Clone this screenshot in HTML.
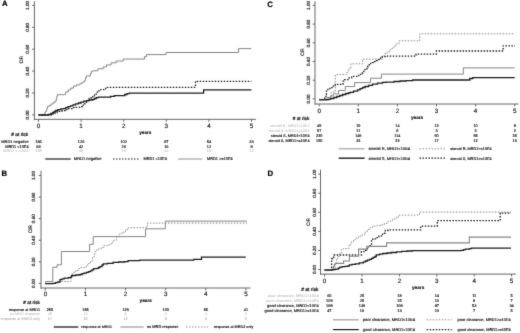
<!DOCTYPE html><html><head><meta charset="utf-8"><title>CIR curves</title><style>html,body{margin:0;padding:0;background:#fff;width:520px;height:333px;overflow:hidden}svg{display:block;filter:grayscale(1)}text{font-family:"Liberation Sans", sans-serif;text-rendering:geometricPrecision}polyline{fill:none;stroke-linejoin:miter}</style></head><body>
<svg width="520" height="333" viewBox="0 0 520 333">
<defs><filter id="bl" x="0" y="0" width="1" height="1" color-interpolation-filters="sRGB"><feConvolveMatrix order="3" kernelMatrix="0.0183 0.1353 0.0183 0.1353 1.0000 0.1353 0.0183 0.1353 0.0183" divisor="1.6146" edgeMode="duplicate"/></filter></defs>
<rect width="520" height="333" fill="#fff"/>
<g filter="url(#bl)">
<rect width="520" height="333" fill="#fff"/>
<line x1="34.4" y1="1.2" x2="34.4" y2="119.85" stroke="#666" stroke-width="1"/>
<line x1="33.9" y1="119.35" x2="256" y2="119.35" stroke="#666" stroke-width="1"/>
<line x1="32.1" y1="114.9" x2="34.4" y2="114.9" stroke="#666" stroke-width="1"/>
<text transform="translate(29.2 114.9) rotate(-90) scale(0.1)" font-size="46" text-anchor="middle" fill="#111" stroke="#111" stroke-width="1.8">0.00</text>
<line x1="32.1" y1="93" x2="34.4" y2="93" stroke="#666" stroke-width="1"/>
<text transform="translate(29.2 93) rotate(-90) scale(0.1)" font-size="46" text-anchor="middle" fill="#111" stroke="#111" stroke-width="1.8">0.20</text>
<line x1="32.1" y1="71.1" x2="34.4" y2="71.1" stroke="#666" stroke-width="1"/>
<text transform="translate(29.2 71.1) rotate(-90) scale(0.1)" font-size="46" text-anchor="middle" fill="#111" stroke="#111" stroke-width="1.8">0.40</text>
<line x1="32.1" y1="49.2" x2="34.4" y2="49.2" stroke="#666" stroke-width="1"/>
<text transform="translate(29.2 49.2) rotate(-90) scale(0.1)" font-size="46" text-anchor="middle" fill="#111" stroke="#111" stroke-width="1.8">0.60</text>
<line x1="32.1" y1="27.3" x2="34.4" y2="27.3" stroke="#666" stroke-width="1"/>
<text transform="translate(29.2 27.3) rotate(-90) scale(0.1)" font-size="46" text-anchor="middle" fill="#111" stroke="#111" stroke-width="1.8">0.80</text>
<line x1="32.1" y1="5.4" x2="34.4" y2="5.4" stroke="#666" stroke-width="1"/>
<text transform="translate(29.2 5.4) rotate(-90) scale(0.1)" font-size="46" text-anchor="middle" fill="#111" stroke="#111" stroke-width="1.8">1.00</text>
<line x1="38.5" y1="119.35" x2="38.5" y2="121.75" stroke="#666" stroke-width="1"/>
<text transform="translate(38.5 127.7) scale(0.1)" font-size="63" text-anchor="middle" fill="#111" stroke="#111" stroke-width="1.5">0</text>
<line x1="81.1" y1="119.35" x2="81.1" y2="121.75" stroke="#666" stroke-width="1"/>
<text transform="translate(81.1 127.7) scale(0.1)" font-size="63" text-anchor="middle" fill="#111" stroke="#111" stroke-width="1.5">1</text>
<line x1="123.7" y1="119.35" x2="123.7" y2="121.75" stroke="#666" stroke-width="1"/>
<text transform="translate(123.7 127.7) scale(0.1)" font-size="63" text-anchor="middle" fill="#111" stroke="#111" stroke-width="1.5">2</text>
<line x1="166.3" y1="119.35" x2="166.3" y2="121.75" stroke="#666" stroke-width="1"/>
<text transform="translate(166.3 127.7) scale(0.1)" font-size="63" text-anchor="middle" fill="#111" stroke="#111" stroke-width="1.5">3</text>
<line x1="208.9" y1="119.35" x2="208.9" y2="121.75" stroke="#666" stroke-width="1"/>
<text transform="translate(208.9 127.7) scale(0.1)" font-size="63" text-anchor="middle" fill="#111" stroke="#111" stroke-width="1.5">4</text>
<line x1="251.5" y1="119.35" x2="251.5" y2="121.75" stroke="#666" stroke-width="1"/>
<text transform="translate(251.5 127.7) scale(0.1)" font-size="63" text-anchor="middle" fill="#111" stroke="#111" stroke-width="1.5">5</text>
<text transform="translate(2 6.4) scale(0.1)" font-size="78" fill="#000" font-weight="bold" stroke="#000" stroke-width="2">A</text>
<text transform="translate(23.29 59.8) rotate(-90) scale(0.1)" font-size="50" text-anchor="middle" fill="#1a1a1a" stroke="#1a1a1a" stroke-width="1.5" textLength="75" lengthAdjust="spacingAndGlyphs">CIR</text>
<text transform="translate(139.2 133.7) scale(0.1)" font-size="47" fill="#111" font-weight="bold" stroke="#111" stroke-width="1.5">years</text>
<text transform="translate(28.2 135.6) scale(0.1)" font-size="48.52" text-anchor="end" fill="#111" stroke="#111" stroke-width="2.2"># at risk</text>
<text transform="translate(28.6 142.7) scale(0.1)" font-size="39.64" text-anchor="end" fill="#111" stroke="#111" stroke-width="1.5">MRD1 negative</text>
<text transform="translate(38.5 142.7) scale(0.1)" font-size="39" text-anchor="middle" fill="#111" stroke="#111" stroke-width="1.5">186</text>
<text transform="translate(81.1 142.7) scale(0.1)" font-size="39" text-anchor="middle" fill="#111" stroke="#111" stroke-width="1.5">126</text>
<text transform="translate(123.7 142.7) scale(0.1)" font-size="39" text-anchor="middle" fill="#111" stroke="#111" stroke-width="1.5">102</text>
<text transform="translate(166.3 142.7) scale(0.1)" font-size="39" text-anchor="middle" fill="#111" stroke="#111" stroke-width="1.5">87</text>
<text transform="translate(208.9 142.7) scale(0.1)" font-size="39" text-anchor="middle" fill="#111" stroke="#111" stroke-width="1.5">54</text>
<text transform="translate(251.5 142.7) scale(0.1)" font-size="39" text-anchor="middle" fill="#111" stroke="#111" stroke-width="1.5">33</text>
<text transform="translate(28.6 147.6) scale(0.1)" font-size="38.82" text-anchor="end" fill="#111" stroke="#111" stroke-width="1.5">MRD1 &lt;10E4</text>
<text transform="translate(38.5 147.6) scale(0.1)" font-size="39" text-anchor="middle" fill="#111" stroke="#111" stroke-width="1.5">69</text>
<text transform="translate(81.1 147.6) scale(0.1)" font-size="39" text-anchor="middle" fill="#111" stroke="#111" stroke-width="1.5">42</text>
<text transform="translate(123.7 147.6) scale(0.1)" font-size="39" text-anchor="middle" fill="#111" stroke="#111" stroke-width="1.5">26</text>
<text transform="translate(166.3 147.6) scale(0.1)" font-size="39" text-anchor="middle" fill="#111" stroke="#111" stroke-width="1.5">16</text>
<text transform="translate(208.9 147.6) scale(0.1)" font-size="39" text-anchor="middle" fill="#111" stroke="#111" stroke-width="1.5">12</text>
<text transform="translate(251.5 147.6) scale(0.1)" font-size="39" text-anchor="middle" fill="#111" stroke="#111" stroke-width="1.5">8</text>
<text transform="translate(28.6 152.4) scale(0.1)" font-size="38.26" text-anchor="end" fill="#b0b0b0">MRD1 &gt;=10E4</text>
<text transform="translate(38.5 152.4) scale(0.1)" font-size="39" text-anchor="middle" fill="#b0b0b0">158</text>
<text transform="translate(81.1 152.4) scale(0.1)" font-size="39" text-anchor="middle" fill="#b0b0b0">45</text>
<text transform="translate(123.7 152.4) scale(0.1)" font-size="39" text-anchor="middle" fill="#b0b0b0">29</text>
<text transform="translate(166.3 152.4) scale(0.1)" font-size="39" text-anchor="middle" fill="#b0b0b0">20</text>
<text transform="translate(208.9 152.4) scale(0.1)" font-size="39" text-anchor="middle" fill="#b0b0b0">15</text>
<text transform="translate(251.5 152.4) scale(0.1)" font-size="39" text-anchor="middle" fill="#b0b0b0">12</text>
<line x1="45.3" y1="159" x2="70.7" y2="159" stroke="#1c1c1c" stroke-width="1.2"/>
<text transform="translate(73.8 160.45) scale(0.1)" font-size="40.37" fill="#111" stroke="#111" stroke-width="1.5">MRD1 negative</text>
<line x1="113" y1="159" x2="139.4" y2="159" stroke="#000" stroke-width="0.9" stroke-dasharray="1.5 1.5"/>
<text transform="translate(143.5 160.38) scale(0.1)" font-size="38.65" fill="#111" stroke="#111" stroke-width="1.5">MRD1 &lt;10E4</text>
<line x1="178" y1="159" x2="202.3" y2="159" stroke="#858585" stroke-width="0.9"/>
<text transform="translate(207 160.39) scale(0.1)" font-size="38.72" fill="#111" stroke="#111" stroke-width="1.5">MRD1 &gt;=10E4</text>
<polyline points="38.5,114.9 43.4,114.9 44.4,114.9 44.4,113 45.4,113 45.4,111.5 46.4,111.5 46.4,109.1 47.4,109.1 47.4,106.6 48.9,106.6 48.9,105.6 50.9,105.6 50.9,104.1 52.8,104.1 52.8,102.9 54.8,102.9 54.8,101.1 56.3,101.1 56.3,98.7 56.8,98.7 56.8,96.2 57.3,96.2 57.3,94.7 64.9,94.7 65.7,94.7 65.7,91.9 68.3,91.9 68.3,89.9 70.7,89.9 70.7,88.1 73.5,88.1 73.5,86.1 76.4,86.1 76.4,84.9 79.8,84.9 79.8,83.9 81.5,83.9 81.5,82.9 83.2,82.9 83.2,81.7 84.6,81.7 84.6,80.5 85.6,80.5 85.6,77.5 86.5,77.5 86.5,75.9 90.4,75.9 90.4,73.7 91.3,73.7 91.3,71.3 93,71.3 93,70.8 97.9,70.8 97.9,68.8 103.3,68.8 103.3,66.9 106.5,66.9 106.5,64.9 111.1,64.9 111.1,62.8 116.2,62.8 116.2,61 123.25,61 123.25,59.05 144.5,59.05 144.5,56.6 146.5,56.6 146.5,54.6 166,54.6 166,52.5 238.6,52.5 238.6,48.6 251.4,48.6" stroke="#858585" stroke-width="1"/>
<polyline points="38.5,115.1 48,115.1 51,115.1 51,114.1 53,114.1 53,113.3 55,113.3 55,112.5 57,112.5 57,111.9 59.3,111.9 59.3,111.4 62,111.4 62,110.6 65,110.6 65,109.7 68,109.7 68,108.7 72,108.7 72,107.7 76,107.7 76,107.3 80.2,107.3 80.2,106.7 82.5,106.7 82.5,105.1 84.6,105.1 84.6,103.8 86.5,103.8 86.5,101.8 88,101.8 88,99.9 89.2,99.9 89.2,98.5 91,98.5 91,97.1 92.8,97.1 92.8,95.8 94.5,95.8 94.5,94.1 96.4,94.1 96.4,92.2 97.5,92.2 97.5,90.8 99.1,90.8 99.1,89.6 105.7,89.6 105.7,87.4 195.5,87.4 195.5,81.3 251.4,81.3" stroke="#1c1c1c" stroke-width="1.3" stroke-dasharray="1.5 1.5"/>
<polyline points="38.5,115 45.9,115 48.4,115 48.4,114.5 50.9,114.5 50.9,113.5 52.8,113.5 52.8,112.5 54.3,112.5 54.3,111.5 55.8,111.5 55.8,110.5 57.8,110.5 57.8,109.6 60.8,109.6 60.8,108.9 63.7,108.9 63.7,108.6 65.7,108.6 65.7,107.6 68,107.6 68,106.6 70.5,106.6 70.5,105.8 73,105.8 73,104.8 75.5,104.8 75.5,103.9 78.4,103.9 78.4,103 81,103 81,102.1 83.8,102.1 83.8,101.2 86.5,101.2 86.5,100.6 89.2,100.6 89.2,100 92.8,100 92.8,99.4 94.5,99.4 94.5,98.5 96.4,98.5 96.4,97.7 98.4,97.7 98.4,97.2 110.6,97.2 110.6,96.4 114.4,96.4 114.4,95.6 124.8,95.6 124.8,94.5 127,94.5 127,93.7 129.5,93.7 129.5,93.1 203.6,93.1 203.6,89.8 251.4,89.8" stroke="#1c1c1c" stroke-width="1.3"/>
<line x1="41" y1="170.8" x2="41" y2="288.5" stroke="#666" stroke-width="1"/>
<line x1="40.5" y1="288" x2="250.4" y2="288" stroke="#666" stroke-width="1"/>
<line x1="38.7" y1="283.4" x2="41" y2="283.4" stroke="#666" stroke-width="1"/>
<text transform="translate(34.8 283.4) rotate(-90) scale(0.1)" font-size="46" text-anchor="middle" fill="#111" stroke="#111" stroke-width="1.8">0.00</text>
<line x1="38.7" y1="261.82" x2="41" y2="261.82" stroke="#666" stroke-width="1"/>
<text transform="translate(34.8 261.82) rotate(-90) scale(0.1)" font-size="46" text-anchor="middle" fill="#111" stroke="#111" stroke-width="1.8">0.20</text>
<line x1="38.7" y1="240.24" x2="41" y2="240.24" stroke="#666" stroke-width="1"/>
<text transform="translate(34.8 240.24) rotate(-90) scale(0.1)" font-size="46" text-anchor="middle" fill="#111" stroke="#111" stroke-width="1.8">0.40</text>
<line x1="38.7" y1="218.66" x2="41" y2="218.66" stroke="#666" stroke-width="1"/>
<text transform="translate(34.8 218.66) rotate(-90) scale(0.1)" font-size="46" text-anchor="middle" fill="#111" stroke="#111" stroke-width="1.8">0.60</text>
<line x1="38.7" y1="197.08" x2="41" y2="197.08" stroke="#666" stroke-width="1"/>
<text transform="translate(34.8 197.08) rotate(-90) scale(0.1)" font-size="46" text-anchor="middle" fill="#111" stroke="#111" stroke-width="1.8">0.80</text>
<line x1="38.7" y1="175.5" x2="41" y2="175.5" stroke="#666" stroke-width="1"/>
<text transform="translate(34.8 175.5) rotate(-90) scale(0.1)" font-size="46" text-anchor="middle" fill="#111" stroke="#111" stroke-width="1.8">1.00</text>
<line x1="45.4" y1="288" x2="45.4" y2="290.4" stroke="#666" stroke-width="1"/>
<text transform="translate(45.4 296.2) scale(0.1)" font-size="63" text-anchor="middle" fill="#111" stroke="#111" stroke-width="1.5">0</text>
<line x1="85.5" y1="288" x2="85.5" y2="290.4" stroke="#666" stroke-width="1"/>
<text transform="translate(85.5 296.2) scale(0.1)" font-size="63" text-anchor="middle" fill="#111" stroke="#111" stroke-width="1.5">1</text>
<line x1="125.6" y1="288" x2="125.6" y2="290.4" stroke="#666" stroke-width="1"/>
<text transform="translate(125.6 296.2) scale(0.1)" font-size="63" text-anchor="middle" fill="#111" stroke="#111" stroke-width="1.5">2</text>
<line x1="165.7" y1="288" x2="165.7" y2="290.4" stroke="#666" stroke-width="1"/>
<text transform="translate(165.7 296.2) scale(0.1)" font-size="63" text-anchor="middle" fill="#111" stroke="#111" stroke-width="1.5">3</text>
<line x1="205.8" y1="288" x2="205.8" y2="290.4" stroke="#666" stroke-width="1"/>
<text transform="translate(205.8 296.2) scale(0.1)" font-size="63" text-anchor="middle" fill="#111" stroke="#111" stroke-width="1.5">4</text>
<line x1="245.9" y1="288" x2="245.9" y2="290.4" stroke="#666" stroke-width="1"/>
<text transform="translate(245.9 296.2) scale(0.1)" font-size="63" text-anchor="middle" fill="#111" stroke="#111" stroke-width="1.5">5</text>
<text transform="translate(1.4 176.4) scale(0.1)" font-size="78" fill="#000" font-weight="bold" stroke="#000" stroke-width="2">B</text>
<text transform="translate(31.79 229.2) rotate(-90) scale(0.1)" font-size="50" text-anchor="middle" fill="#1a1a1a" stroke="#1a1a1a" stroke-width="1.5" textLength="80" lengthAdjust="spacingAndGlyphs">CIR</text>
<text transform="translate(139.6 301.6) scale(0.1)" font-size="47" fill="#111" font-weight="bold" stroke="#111" stroke-width="1.5">years</text>
<text transform="translate(39.9 303.7) scale(0.1)" font-size="47.35" text-anchor="end" fill="#111" stroke="#111" stroke-width="2.2"># at risk</text>
<text transform="translate(40.1 310.7) scale(0.1)" font-size="37.67" text-anchor="end" fill="#111" stroke="#111" stroke-width="1.5">response at MRD1</text>
<text transform="translate(49.9 310.7) scale(0.1)" font-size="38" text-anchor="middle" fill="#111" stroke="#111" stroke-width="1.5">265</text>
<text transform="translate(85.5 310.7) scale(0.1)" font-size="38" text-anchor="middle" fill="#111" stroke="#111" stroke-width="1.5">166</text>
<text transform="translate(125.6 310.7) scale(0.1)" font-size="38" text-anchor="middle" fill="#111" stroke="#111" stroke-width="1.5">129</text>
<text transform="translate(165.7 310.7) scale(0.1)" font-size="38" text-anchor="middle" fill="#111" stroke="#111" stroke-width="1.5">103</text>
<text transform="translate(205.8 310.7) scale(0.1)" font-size="38" text-anchor="middle" fill="#111" stroke="#111" stroke-width="1.5">66</text>
<text transform="translate(245.9 310.7) scale(0.1)" font-size="38" text-anchor="middle" fill="#111" stroke="#111" stroke-width="1.5">41</text>
<text transform="translate(40.1 315.3) scale(0.1)" font-size="37.6" text-anchor="end" fill="#b0b0b0">no MRD response</text>
<text transform="translate(49.9 315.3) scale(0.1)" font-size="38" text-anchor="middle" fill="#b0b0b0">49</text>
<text transform="translate(85.5 315.3) scale(0.1)" font-size="38" text-anchor="middle" fill="#b0b0b0">10</text>
<text transform="translate(125.6 315.3) scale(0.1)" font-size="38" text-anchor="middle" fill="#b0b0b0">8</text>
<text transform="translate(165.7 315.3) scale(0.1)" font-size="38" text-anchor="middle" fill="#b0b0b0">5</text>
<text transform="translate(205.8 315.3) scale(0.1)" font-size="38" text-anchor="middle" fill="#b0b0b0">4</text>
<text transform="translate(245.9 315.3) scale(0.1)" font-size="38" text-anchor="middle" fill="#b0b0b0">0</text>
<text transform="translate(40.1 319.9) scale(0.1)" font-size="37.8" text-anchor="end" fill="#999">response at MRD2 only</text>
<text transform="translate(49.9 319.9) scale(0.1)" font-size="38" text-anchor="middle" fill="#999">57</text>
<text transform="translate(85.5 319.9) scale(0.1)" font-size="38" text-anchor="middle" fill="#999">23</text>
<text transform="translate(125.6 319.9) scale(0.1)" font-size="38" text-anchor="middle" fill="#999">12</text>
<text transform="translate(165.7 319.9) scale(0.1)" font-size="38" text-anchor="middle" fill="#999">6</text>
<text transform="translate(205.8 319.9) scale(0.1)" font-size="38" text-anchor="middle" fill="#999">5</text>
<text transform="translate(245.9 319.9) scale(0.1)" font-size="38" text-anchor="middle" fill="#999">0</text>
<line x1="53.8" y1="327" x2="78.3" y2="327" stroke="#1c1c1c" stroke-width="1.3"/>
<text transform="translate(81.2 328.33) scale(0.1)" font-size="37.18" fill="#111" stroke="#111" stroke-width="1.5">response at MRD1</text>
<line x1="120.4" y1="327" x2="143.7" y2="327" stroke="#858585" stroke-width="1"/>
<text transform="translate(146.9 328.4) scale(0.1)" font-size="38.98" fill="#111" stroke="#111" stroke-width="1.5">no MRD response</text>
<line x1="186" y1="327" x2="208" y2="327" stroke="#858585" stroke-width="0.9" stroke-dasharray="1.5 1.5"/>
<text transform="translate(213.8 328.35) scale(0.1)" font-size="37.8" fill="#111" stroke="#111" stroke-width="1.5">response at MRD2 only</text>
<polyline points="45.4,283.7 45.6,283.7 45.6,281.5 52.8,281.5 52.8,267.3 57.1,267.3 57.1,264.8 61.4,264.8 61.4,251.5 89.6,251.5 89.6,244.3 93.2,244.3 93.2,236.6 145.6,236.6 145.6,228.8 165.3,228.8 165.3,221.1 247,221.1" stroke="#858585" stroke-width="1"/>
<polyline points="45.4,283.6 55,283.6 55,282.5 61.4,282.5 61.4,281.5 71,281.5 71,276.3 72.5,276.3 72.5,273.8 73.7,273.8 73.7,272.3 75.8,272.3 75.8,270.3 78.4,270.3 78.4,268.7 81,268.7 81,267.6 85.2,267.6 85.2,267.1 86.3,267.1 86.3,265 88.4,265 88.4,263.4 90.5,263.4 90.5,260.8 92.6,260.8 92.6,257.7 94.1,257.7 94.1,256.1 94.7,256.1 94.7,252.4 95.2,252.4 95.2,250.2 97.5,250.2 97.5,249 101.1,249 101.1,247.5 103.8,247.5 103.8,245.7 107.4,245.7 107.4,244.8 110.1,244.8 110.1,243.9 112,243.9 112,242.1 113.7,242.1 113.7,240.3 116.5,240.3 116.5,237.1 119.2,237.1 119.2,234 121.9,234 121.9,232.2 125.5,232.2 125.5,229.5 128.2,229.5 128.2,227.7 147.2,227.7 147.2,223.1 247,223.1" stroke="#888" stroke-width="1" stroke-dasharray="1.5 1.5"/>
<polyline points="45.4,283.7 51,283.7 52.8,283.7 52.8,283.3 55.5,283.3 55.5,282.6 57.8,282.6 57.8,281.9 60,281.9 60,279.7 62,279.7 62,278.8 64.2,278.8 64.2,278.1 68.4,278.1 68.4,277.6 70.5,277.6 70.5,277.1 71.6,277.1 71.6,275.5 75.8,275.5 75.8,275 80,275 80,274.5 82.1,274.5 82.1,273.6 84,273.6 84,273.1 86.3,273.1 86.3,272.4 88.5,272.4 88.5,271.6 90.5,271.6 90.5,270.8 92,270.8 92,269.8 93.6,269.8 93.6,268.7 96.8,268.7 96.8,268.4 98.5,268.4 98.5,267.5 99.9,267.5 99.9,266.6 102,266.6 102,265 103.3,265 103.3,263.9 107.3,263.9 107.3,263.4 113.1,263.4 113.1,262.4 118.8,262.4 118.8,262 124.6,262 124.6,261.6 128.1,261.6 128.1,260.6 139.6,260.6 139.6,260.2 193.8,260.2 193.8,259.3 201.5,259.3 201.5,257.1 245.8,257.1" stroke="#1c1c1c" stroke-width="1.3"/>
<line x1="315" y1="1.2" x2="315" y2="104.5" stroke="#666" stroke-width="1"/>
<line x1="314.5" y1="104" x2="518.5" y2="104" stroke="#666" stroke-width="1"/>
<line x1="312.7" y1="98.9" x2="315" y2="98.9" stroke="#666" stroke-width="1"/>
<text transform="translate(309.6 98.9) rotate(-90) scale(0.1)" font-size="46" text-anchor="middle" fill="#111" stroke="#111" stroke-width="1.8">0.00</text>
<line x1="312.7" y1="80.2" x2="315" y2="80.2" stroke="#666" stroke-width="1"/>
<text transform="translate(309.6 80.2) rotate(-90) scale(0.1)" font-size="46" text-anchor="middle" fill="#111" stroke="#111" stroke-width="1.8">0.20</text>
<line x1="312.7" y1="61.5" x2="315" y2="61.5" stroke="#666" stroke-width="1"/>
<text transform="translate(309.6 61.5) rotate(-90) scale(0.1)" font-size="46" text-anchor="middle" fill="#111" stroke="#111" stroke-width="1.8">0.40</text>
<line x1="312.7" y1="42.8" x2="315" y2="42.8" stroke="#666" stroke-width="1"/>
<text transform="translate(309.6 42.8) rotate(-90) scale(0.1)" font-size="46" text-anchor="middle" fill="#111" stroke="#111" stroke-width="1.8">0.60</text>
<line x1="312.7" y1="24.1" x2="315" y2="24.1" stroke="#666" stroke-width="1"/>
<text transform="translate(309.6 24.1) rotate(-90) scale(0.1)" font-size="46" text-anchor="middle" fill="#111" stroke="#111" stroke-width="1.8">0.80</text>
<line x1="312.7" y1="5.4" x2="315" y2="5.4" stroke="#666" stroke-width="1"/>
<text transform="translate(309.6 5.4) rotate(-90) scale(0.1)" font-size="46" text-anchor="middle" fill="#111" stroke="#111" stroke-width="1.8">1.00</text>
<line x1="319.2" y1="104" x2="319.2" y2="106.4" stroke="#666" stroke-width="1"/>
<text transform="translate(319.2 112.6) scale(0.1)" font-size="63" text-anchor="middle" fill="#111" stroke="#111" stroke-width="1.5">0</text>
<line x1="358.3" y1="104" x2="358.3" y2="106.4" stroke="#666" stroke-width="1"/>
<text transform="translate(358.3 112.6) scale(0.1)" font-size="63" text-anchor="middle" fill="#111" stroke="#111" stroke-width="1.5">1</text>
<line x1="397.4" y1="104" x2="397.4" y2="106.4" stroke="#666" stroke-width="1"/>
<text transform="translate(397.4 112.6) scale(0.1)" font-size="63" text-anchor="middle" fill="#111" stroke="#111" stroke-width="1.5">2</text>
<line x1="436.5" y1="104" x2="436.5" y2="106.4" stroke="#666" stroke-width="1"/>
<text transform="translate(436.5 112.6) scale(0.1)" font-size="63" text-anchor="middle" fill="#111" stroke="#111" stroke-width="1.5">3</text>
<line x1="475.6" y1="104" x2="475.6" y2="106.4" stroke="#666" stroke-width="1"/>
<text transform="translate(475.6 112.6) scale(0.1)" font-size="63" text-anchor="middle" fill="#111" stroke="#111" stroke-width="1.5">4</text>
<line x1="514.7" y1="104" x2="514.7" y2="106.4" stroke="#666" stroke-width="1"/>
<text transform="translate(514.7 112.6) scale(0.1)" font-size="63" text-anchor="middle" fill="#111" stroke="#111" stroke-width="1.5">5</text>
<text transform="translate(267.3 6.5) scale(0.1)" font-size="78" fill="#000" font-weight="bold" stroke="#000" stroke-width="2">C</text>
<text transform="translate(303.69 52) rotate(-90) scale(0.1)" font-size="50" text-anchor="middle" fill="#1a1a1a" stroke="#1a1a1a" stroke-width="1.5" textLength="75" lengthAdjust="spacingAndGlyphs">CIR</text>
<text transform="translate(410.9 118.5) scale(0.1)" font-size="47" fill="#111" font-weight="bold" stroke="#111" stroke-width="1.5">years</text>
<text transform="translate(309.3 120.3) scale(0.1)" font-size="47.35" text-anchor="end" fill="#111" stroke="#111" stroke-width="2.2"># at risk</text>
<text transform="translate(309.5 126.7) scale(0.1)" font-size="38.03" text-anchor="end" fill="#b0b0b0">steroid R, MRD1&lt;10E4</text>
<text transform="translate(319.2 126.7) scale(0.1)" font-size="38" text-anchor="middle" fill="#111" stroke="#111" stroke-width="1.5">49</text>
<text transform="translate(358.3 126.7) scale(0.1)" font-size="38" text-anchor="middle" fill="#111" stroke="#111" stroke-width="1.5">19</text>
<text transform="translate(397.4 126.7) scale(0.1)" font-size="38" text-anchor="middle" fill="#111" stroke="#111" stroke-width="1.5">14</text>
<text transform="translate(436.5 126.7) scale(0.1)" font-size="38" text-anchor="middle" fill="#111" stroke="#111" stroke-width="1.5">13</text>
<text transform="translate(475.6 126.7) scale(0.1)" font-size="38" text-anchor="middle" fill="#111" stroke="#111" stroke-width="1.5">10</text>
<text transform="translate(514.7 126.7) scale(0.1)" font-size="38" text-anchor="middle" fill="#111" stroke="#111" stroke-width="1.5">8</text>
<text transform="translate(309.5 131.6) scale(0.1)" font-size="37.73" text-anchor="end" fill="#b0b0b0">steroid R, MRD1&gt;=10E4</text>
<text transform="translate(319.2 131.6) scale(0.1)" font-size="38" text-anchor="middle" fill="#111" stroke="#111" stroke-width="1.5">57</text>
<text transform="translate(358.3 131.6) scale(0.1)" font-size="38" text-anchor="middle" fill="#111" stroke="#111" stroke-width="1.5">11</text>
<text transform="translate(397.4 131.6) scale(0.1)" font-size="38" text-anchor="middle" fill="#111" stroke="#111" stroke-width="1.5">6</text>
<text transform="translate(436.5 131.6) scale(0.1)" font-size="38" text-anchor="middle" fill="#111" stroke="#111" stroke-width="1.5">3</text>
<text transform="translate(475.6 131.6) scale(0.1)" font-size="38" text-anchor="middle" fill="#111" stroke="#111" stroke-width="1.5">3</text>
<text transform="translate(514.7 131.6) scale(0.1)" font-size="38" text-anchor="middle" fill="#111" stroke="#111" stroke-width="1.5">2</text>
<text transform="translate(309.5 137) scale(0.1)" font-size="37.74" text-anchor="end" fill="#111" stroke="#111" stroke-width="1.5">steroid S, MRD1&lt;10E4</text>
<text transform="translate(319.2 137) scale(0.1)" font-size="38" text-anchor="middle" fill="#111" stroke="#111" stroke-width="1.5">220</text>
<text transform="translate(358.3 137) scale(0.1)" font-size="38" text-anchor="middle" fill="#111" stroke="#111" stroke-width="1.5">149</text>
<text transform="translate(397.4 137) scale(0.1)" font-size="38" text-anchor="middle" fill="#111" stroke="#111" stroke-width="1.5">114</text>
<text transform="translate(436.5 137) scale(0.1)" font-size="38" text-anchor="middle" fill="#111" stroke="#111" stroke-width="1.5">90</text>
<text transform="translate(475.6 137) scale(0.1)" font-size="38" text-anchor="middle" fill="#111" stroke="#111" stroke-width="1.5">56</text>
<text transform="translate(514.7 137) scale(0.1)" font-size="38" text-anchor="middle" fill="#111" stroke="#111" stroke-width="1.5">35</text>
<text transform="translate(309.5 141.6) scale(0.1)" font-size="37.92" text-anchor="end" fill="#111" stroke="#111" stroke-width="1.5">steroid S, MRD1&gt;=10E4</text>
<text transform="translate(319.2 141.6) scale(0.1)" font-size="38" text-anchor="middle" fill="#111" stroke="#111" stroke-width="1.5">150</text>
<text transform="translate(358.3 141.6) scale(0.1)" font-size="38" text-anchor="middle" fill="#111" stroke="#111" stroke-width="1.5">33</text>
<text transform="translate(397.4 141.6) scale(0.1)" font-size="38" text-anchor="middle" fill="#111" stroke="#111" stroke-width="1.5">22</text>
<text transform="translate(436.5 141.6) scale(0.1)" font-size="38" text-anchor="middle" fill="#111" stroke="#111" stroke-width="1.5">17</text>
<text transform="translate(475.6 141.6) scale(0.1)" font-size="38" text-anchor="middle" fill="#111" stroke="#111" stroke-width="1.5">12</text>
<text transform="translate(514.7 141.6) scale(0.1)" font-size="38" text-anchor="middle" fill="#111" stroke="#111" stroke-width="1.5">10</text>
<line x1="338.7" y1="148.8" x2="364.6" y2="148.8" stroke="#858585" stroke-width="0.9"/>
<text transform="translate(368.5 150.25) scale(0.1)" font-size="40.37" fill="#111" stroke="#111" stroke-width="1.5">steroid R, MRD1&lt;10E4</text>
<line x1="419.5" y1="148.8" x2="444.9" y2="148.8" stroke="#858585" stroke-width="0.9" stroke-dasharray="1.5 1.5"/>
<text transform="translate(450.2 150.16) scale(0.1)" font-size="38.1" fill="#111" stroke="#111" stroke-width="1.5">steroid R, MRD1&gt;=10E4</text>
<line x1="338.7" y1="158.2" x2="364.6" y2="158.2" stroke="#1c1c1c" stroke-width="1.4"/>
<text transform="translate(368.5 159.65) scale(0.1)" font-size="40.59" fill="#111" stroke="#111" stroke-width="1.5">steroid S, MRD1&lt;10E4</text>
<line x1="419.5" y1="158.2" x2="444.9" y2="158.2" stroke="#1c1c1c" stroke-width="1.3" stroke-dasharray="1.5 1.5"/>
<text transform="translate(450.2 159.57) scale(0.1)" font-size="38.29" fill="#111" stroke="#111" stroke-width="1.5">steroid S, MRD1&gt;=10E4</text>
<polyline points="319.2,99.3 327,99.3 331,99.3 331,96.8 331.3,96.8 331.3,92.1 335.3,92.1 335.3,74.6 346.7,74.6 346.7,72.6 347.5,72.6 347.5,70.8 348.5,70.8 348.5,68.8 350.9,68.8 350.9,63.8 362.6,63.8 362.6,59.2 380.4,59.2 382.3,59.2 382.3,55.7 384.8,55.7 384.8,53.7 387.2,53.7 387.2,51.8 389.7,51.8 389.7,49.8 392.1,49.8 392.1,47.9 394,47.9 394,45.9 396,45.9 396,44 399,44 399,40.8 419.7,40.8 419.7,33.8 514,33.8" stroke="#888" stroke-width="1" stroke-dasharray="1.5 1.5"/>
<polyline points="319.2,99.6 324.9,99.6 324.9,98 325.9,98 325.9,94.5 326.4,94.5 326.4,91.1 327.9,91.1 327.9,88.6 329.9,88.6 329.9,87.6 333.3,87.6 333.3,86.1 335.3,86.1 335.3,84.3 343,84.3 343,81.2 344.6,81.2 344.6,79.6 348,79.6 348,77.8 351.6,77.8 351.6,76.3 358.8,76.3 358.8,74.3 361.5,74.3 361.5,73.7 362.4,73.7 362.4,71.5 363.8,71.5 363.8,69.7 366,69.7 366,69.2 366.9,69.2 366.9,67 367.8,67 367.8,65.2 369.2,65.2 369.2,63.6 370.6,63.6 370.6,63.3 372.5,63.3 372.5,62.6 374.5,62.6 374.5,61.6 376.5,61.6 376.5,60.6 378.4,60.6 378.4,59.6 380.5,59.6 380.5,58.1 382.3,58.1 382.3,56.7 385.3,56.7 385.3,56.1 416.1,56.1 416.1,54.1 436.4,54.1 436.4,51 503.2,51 503.2,45.8 515,45.8" stroke="#1c1c1c" stroke-width="1.3" stroke-dasharray="1.5 1.5"/>
<polyline points="319.2,99.5 327,99.5 327,97.5 330.5,97.5 330.5,95.9 333.3,95.9 333.3,93.9 338.5,93.9 338.5,90.5 345.3,90.5 345.3,86.5 354.6,86.5 354.6,82.6 370.6,82.6 370.6,78.2 381.4,78.2 381.4,74.1 463.3,74.1 463.3,67.9 514.7,67.9" stroke="#858585" stroke-width="1"/>
<polyline points="319.2,99.9 326.9,99.9 326.9,99.7 329,99.7 329,99.1 330.9,99.1 330.9,98.5 333.8,98.5 333.8,97.5 336.8,97.5 336.8,96.5 339.8,96.5 339.8,95.5 342.7,95.5 342.7,94.5 345.7,94.5 345.7,93.5 348.5,93.5 348.5,93 350,93 350,92.3 353.5,92.3 353.5,91.1 357.5,91.1 357.5,89.8 360,89.8 360,88.6 362.5,88.6 362.5,87.5 365,87.5 365,86.5 368.7,86.5 368.7,85.4 372.5,85.4 372.5,84.1 377.5,84.1 377.5,83.1 382.5,83.1 382.5,82.3 386.3,82.3 386.3,82.1 394.1,82.1 394.1,81.5 400,81.5 400,81 406,81 406,80.6 412.7,80.6 412.7,80 469.8,80 469.8,78.5 472.7,78.5 472.7,77.6 514.7,77.6" stroke="#1c1c1c" stroke-width="1.3"/>
<line x1="320.5" y1="169.7" x2="320.5" y2="274.6" stroke="#666" stroke-width="1"/>
<line x1="320" y1="274.1" x2="516" y2="274.1" stroke="#666" stroke-width="1"/>
<line x1="318.2" y1="269.5" x2="320.5" y2="269.5" stroke="#666" stroke-width="1"/>
<text transform="translate(315.5 269.5) rotate(-90) scale(0.1)" font-size="46" text-anchor="middle" fill="#111" stroke="#111" stroke-width="1.8">0.00</text>
<line x1="318.2" y1="250.44" x2="320.5" y2="250.44" stroke="#666" stroke-width="1"/>
<text transform="translate(315.5 250.44) rotate(-90) scale(0.1)" font-size="46" text-anchor="middle" fill="#111" stroke="#111" stroke-width="1.8">0.20</text>
<line x1="318.2" y1="231.38" x2="320.5" y2="231.38" stroke="#666" stroke-width="1"/>
<text transform="translate(315.5 231.38) rotate(-90) scale(0.1)" font-size="46" text-anchor="middle" fill="#111" stroke="#111" stroke-width="1.8">0.40</text>
<line x1="318.2" y1="212.32" x2="320.5" y2="212.32" stroke="#666" stroke-width="1"/>
<text transform="translate(315.5 212.32) rotate(-90) scale(0.1)" font-size="46" text-anchor="middle" fill="#111" stroke="#111" stroke-width="1.8">0.60</text>
<line x1="318.2" y1="193.26" x2="320.5" y2="193.26" stroke="#666" stroke-width="1"/>
<text transform="translate(315.5 193.26) rotate(-90) scale(0.1)" font-size="46" text-anchor="middle" fill="#111" stroke="#111" stroke-width="1.8">0.80</text>
<line x1="318.2" y1="174.2" x2="320.5" y2="174.2" stroke="#666" stroke-width="1"/>
<text transform="translate(315.5 174.2) rotate(-90) scale(0.1)" font-size="46" text-anchor="middle" fill="#111" stroke="#111" stroke-width="1.8">1.00</text>
<line x1="324.6" y1="274.1" x2="324.6" y2="276.5" stroke="#666" stroke-width="1"/>
<text transform="translate(324.6 283) scale(0.1)" font-size="63" text-anchor="middle" fill="#111" stroke="#111" stroke-width="1.5">0</text>
<line x1="362" y1="274.1" x2="362" y2="276.5" stroke="#666" stroke-width="1"/>
<text transform="translate(362 283) scale(0.1)" font-size="63" text-anchor="middle" fill="#111" stroke="#111" stroke-width="1.5">1</text>
<line x1="399.4" y1="274.1" x2="399.4" y2="276.5" stroke="#666" stroke-width="1"/>
<text transform="translate(399.4 283) scale(0.1)" font-size="63" text-anchor="middle" fill="#111" stroke="#111" stroke-width="1.5">2</text>
<line x1="436.8" y1="274.1" x2="436.8" y2="276.5" stroke="#666" stroke-width="1"/>
<text transform="translate(436.8 283) scale(0.1)" font-size="63" text-anchor="middle" fill="#111" stroke="#111" stroke-width="1.5">3</text>
<line x1="474.2" y1="274.1" x2="474.2" y2="276.5" stroke="#666" stroke-width="1"/>
<text transform="translate(474.2 283) scale(0.1)" font-size="63" text-anchor="middle" fill="#111" stroke="#111" stroke-width="1.5">4</text>
<line x1="511.6" y1="274.1" x2="511.6" y2="276.5" stroke="#666" stroke-width="1"/>
<text transform="translate(511.6 283) scale(0.1)" font-size="63" text-anchor="middle" fill="#111" stroke="#111" stroke-width="1.5">5</text>
<text transform="translate(267.4 175.5) scale(0.1)" font-size="78" fill="#000" font-weight="bold" stroke="#000" stroke-width="2">D</text>
<text transform="translate(309.69 221.9) rotate(-90) scale(0.1)" font-size="50" text-anchor="middle" fill="#1a1a1a" stroke="#1a1a1a" stroke-width="1.5" textLength="75" lengthAdjust="spacingAndGlyphs">CIR</text>
<text transform="translate(412 288.5) scale(0.1)" font-size="47" fill="#111" font-weight="bold" stroke="#111" stroke-width="1.5">years</text>
<text transform="translate(318.6 290.6) scale(0.1)" font-size="49.69" text-anchor="end" fill="#111" stroke="#111" stroke-width="2.2"># at risk</text>
<text transform="translate(318.8 297.05) scale(0.1)" font-size="39.55" text-anchor="end" fill="#b0b0b0">poor clearance, MRD1&lt;10E4</text>
<text transform="translate(329.3 297.05) scale(0.1)" font-size="39" text-anchor="middle" fill="#111" stroke="#111" stroke-width="1.5">60</text>
<text transform="translate(362 297.05) scale(0.1)" font-size="39" text-anchor="middle" fill="#111" stroke="#111" stroke-width="1.5">25</text>
<text transform="translate(399.4 297.05) scale(0.1)" font-size="39" text-anchor="middle" fill="#111" stroke="#111" stroke-width="1.5">18</text>
<text transform="translate(436.8 297.05) scale(0.1)" font-size="39" text-anchor="middle" fill="#111" stroke="#111" stroke-width="1.5">14</text>
<text transform="translate(474.2 297.05) scale(0.1)" font-size="39" text-anchor="middle" fill="#111" stroke="#111" stroke-width="1.5">11</text>
<text transform="translate(511.6 297.05) scale(0.1)" font-size="39" text-anchor="middle" fill="#111" stroke="#111" stroke-width="1.5">5</text>
<text transform="translate(318.8 302.45) scale(0.1)" font-size="38.95" text-anchor="end" fill="#b0b0b0">poor clearance, MRD1&gt;=10E4</text>
<text transform="translate(329.3 302.45) scale(0.1)" font-size="39" text-anchor="middle" fill="#111" stroke="#111" stroke-width="1.5">109</text>
<text transform="translate(362 302.45) scale(0.1)" font-size="39" text-anchor="middle" fill="#111" stroke="#111" stroke-width="1.5">25</text>
<text transform="translate(399.4 302.45) scale(0.1)" font-size="39" text-anchor="middle" fill="#111" stroke="#111" stroke-width="1.5">15</text>
<text transform="translate(436.8 302.45) scale(0.1)" font-size="39" text-anchor="middle" fill="#111" stroke="#111" stroke-width="1.5">10</text>
<text transform="translate(474.2 302.45) scale(0.1)" font-size="39" text-anchor="middle" fill="#111" stroke="#111" stroke-width="1.5">8</text>
<text transform="translate(511.6 302.45) scale(0.1)" font-size="39" text-anchor="middle" fill="#111" stroke="#111" stroke-width="1.5">7</text>
<text transform="translate(318.8 307.25) scale(0.1)" font-size="39.41" text-anchor="end" fill="#111" stroke="#111" stroke-width="1.5">good clearance, MRD1&lt;10E4</text>
<text transform="translate(329.3 307.25) scale(0.1)" font-size="39" text-anchor="middle" fill="#111" stroke="#111" stroke-width="1.5">198</text>
<text transform="translate(362 307.25) scale(0.1)" font-size="39" text-anchor="middle" fill="#111" stroke="#111" stroke-width="1.5">139</text>
<text transform="translate(399.4 307.25) scale(0.1)" font-size="39" text-anchor="middle" fill="#111" stroke="#111" stroke-width="1.5">108</text>
<text transform="translate(436.8 307.25) scale(0.1)" font-size="39" text-anchor="middle" fill="#111" stroke="#111" stroke-width="1.5">87</text>
<text transform="translate(474.2 307.25) scale(0.1)" font-size="39" text-anchor="middle" fill="#111" stroke="#111" stroke-width="1.5">53</text>
<text transform="translate(511.6 307.25) scale(0.1)" font-size="39" text-anchor="middle" fill="#111" stroke="#111" stroke-width="1.5">34</text>
<text transform="translate(318.8 311.95) scale(0.1)" font-size="39.48" text-anchor="end" fill="#111" stroke="#111" stroke-width="1.5">good clearance, MRD1&gt;=10E4</text>
<text transform="translate(329.3 311.95) scale(0.1)" font-size="39" text-anchor="middle" fill="#111" stroke="#111" stroke-width="1.5">47</text>
<text transform="translate(362 311.95) scale(0.1)" font-size="39" text-anchor="middle" fill="#111" stroke="#111" stroke-width="1.5">19</text>
<text transform="translate(399.4 311.95) scale(0.1)" font-size="39" text-anchor="middle" fill="#111" stroke="#111" stroke-width="1.5">13</text>
<text transform="translate(436.8 311.95) scale(0.1)" font-size="39" text-anchor="middle" fill="#111" stroke="#111" stroke-width="1.5">10</text>
<text transform="translate(474.2 311.95) scale(0.1)" font-size="39" text-anchor="middle" fill="#111" stroke="#111" stroke-width="1.5">7</text>
<text transform="translate(511.6 311.95) scale(0.1)" font-size="39" text-anchor="middle" fill="#111" stroke="#111" stroke-width="1.5">5</text>
<line x1="332.9" y1="319.8" x2="358.8" y2="319.8" stroke="#aaa" stroke-width="1.4"/>
<text transform="translate(362.7 321.25) scale(0.1)" font-size="40.41" fill="#111" stroke="#111" stroke-width="1.5">poor clearance, MRD1&lt;10E4</text>
<line x1="426.7" y1="319.8" x2="451.7" y2="319.8" stroke="#858585" stroke-width="0.9" stroke-dasharray="1.5 1.5"/>
<text transform="translate(457.5 321.21) scale(0.1)" font-size="39.4" fill="#111" stroke="#111" stroke-width="1.5">poor clearance, MRD1&gt;=10E4</text>
<line x1="332.9" y1="329.6" x2="358.8" y2="329.6" stroke="#1c1c1c" stroke-width="1.2"/>
<text transform="translate(362.7 331.02) scale(0.1)" font-size="39.72" fill="#111" stroke="#111" stroke-width="1.5">good clearance, MRD1&lt;10E4</text>
<line x1="426.7" y1="329.6" x2="451.7" y2="329.6" stroke="#1c1c1c" stroke-width="1.1" stroke-dasharray="1.5 1.5"/>
<text transform="translate(457.5 330.99) scale(0.1)" font-size="38.75" fill="#111" stroke="#111" stroke-width="1.5">good clearance, MRD1&gt;=10E4</text>
<polyline points="324.6,269.9 333.5,269.9 333.5,268.2 335,268.2 335,263.4 336.4,263.4 336.4,259.5 337.7,259.5 337.7,256.4 339.3,256.4 339.3,253.8 341.2,253.8 341.2,249.9 343.2,249.9 343.2,248.5 348.9,248.5 348.9,245.6 349.9,245.6 349.9,244.9 350.8,244.9 350.8,242.2 351.9,242.2 351.9,241.5 353.5,241.5 353.5,239.8 355.3,239.8 355.3,238.1 358.6,238.1 358.6,236.1 362,236.1 362,234.8 364.7,234.8 364.7,232.1 367.4,232.1 367.4,229.4 370.1,229.4 370.1,227.3 372.8,227.3 372.8,226 377.2,226 377.2,225.5 380.8,225.5 380.8,224.8 384.4,224.8 384.4,223.3 388,223.3 388,221.5 390.7,221.5 390.7,220.6 392.5,220.6 392.5,219.1 395,219.1 395,217.9 397,217.9 397,216.9 399.3,216.9 399.3,215.1 419.5,215.1 419.5,212.1 511,212.1" stroke="#888" stroke-width="1" stroke-dasharray="1.5 1.5"/>
<polyline points="324.6,269.9 331.3,269.9 331.3,269.6 331.6,269.6 331.6,258.6 332.6,258.6 332.6,257.1 334,257.1 334,255 361.4,255 361.4,251.7 364,251.7 364,250.3 366.1,250.3 366.1,248.9 368.1,248.9 368.1,246.9 370.1,246.9 370.1,244.2 371.5,244.2 371.5,240.2 372.8,240.2 372.8,238.8 375.4,238.8 375.4,237.7 379,237.7 379,235.9 382.6,235.9 382.6,233.2 385.3,233.2 385.3,230.5 388,230.5 388,229.9 420.7,229.9 420.7,226.1 437.3,226.1 437.3,220.7 500.2,220.7 500.2,213.1 511,213.1" stroke="#1c1c1c" stroke-width="1.3" stroke-dasharray="1.5 1.5"/>
<polyline points="324.6,269.9 331.6,269.9 331.6,269.1 333.5,269.1 333.5,266.3 334.5,266.3 334.5,264.3 335.5,264.3 335.5,263.4 343.6,263.4 343.6,261 349.4,261 349.4,256.3 358.6,256.3 358.6,249.1 366.8,249.1 366.8,246.4 386.6,246.4 386.6,242.9 469.3,242.9 469.3,237.1 511,237.1" stroke="#858585" stroke-width="1.1"/>
<polyline points="324.6,270.1 332.6,270.1 332.6,269.6 335.5,269.6 335.5,269.1 338.3,269.1 338.3,268.2 339.8,268.2 339.8,267.2 342.2,267.2 342.2,266.7 345.1,266.7 345.1,266.3 348,266.3 348,265.8 349.4,265.8 349.4,264.8 352,264.8 352,264.3 355.3,264.3 355.3,263.8 359.3,263.8 359.3,262.9 363.4,262.9 363.4,261.8 365.5,261.8 365.5,261 367.4,261 367.4,260.2 369.5,260.2 369.5,259.3 371.5,259.3 371.5,258.4 373.2,258.4 373.2,257.3 375,257.3 375,256.5 376.3,256.5 376.3,254.9 379.5,254.9 379.5,254.2 382.7,254.2 382.7,253.5 387,253.5 387,253 391.2,253 391.2,252.5 396.5,252.5 396.5,251.9 401.7,251.9 401.7,251.4 407,251.4 407,251 412.3,251 412.3,250.6 461,250.6 461,250.3 463.6,250.3 463.6,249.6 465.5,249.6 465.5,249.2 469.4,249.2 469.4,248.6 471.5,248.6 471.5,248.2 511,248.2" stroke="#1c1c1c" stroke-width="1.3"/>
</g>
</svg></body></html>
